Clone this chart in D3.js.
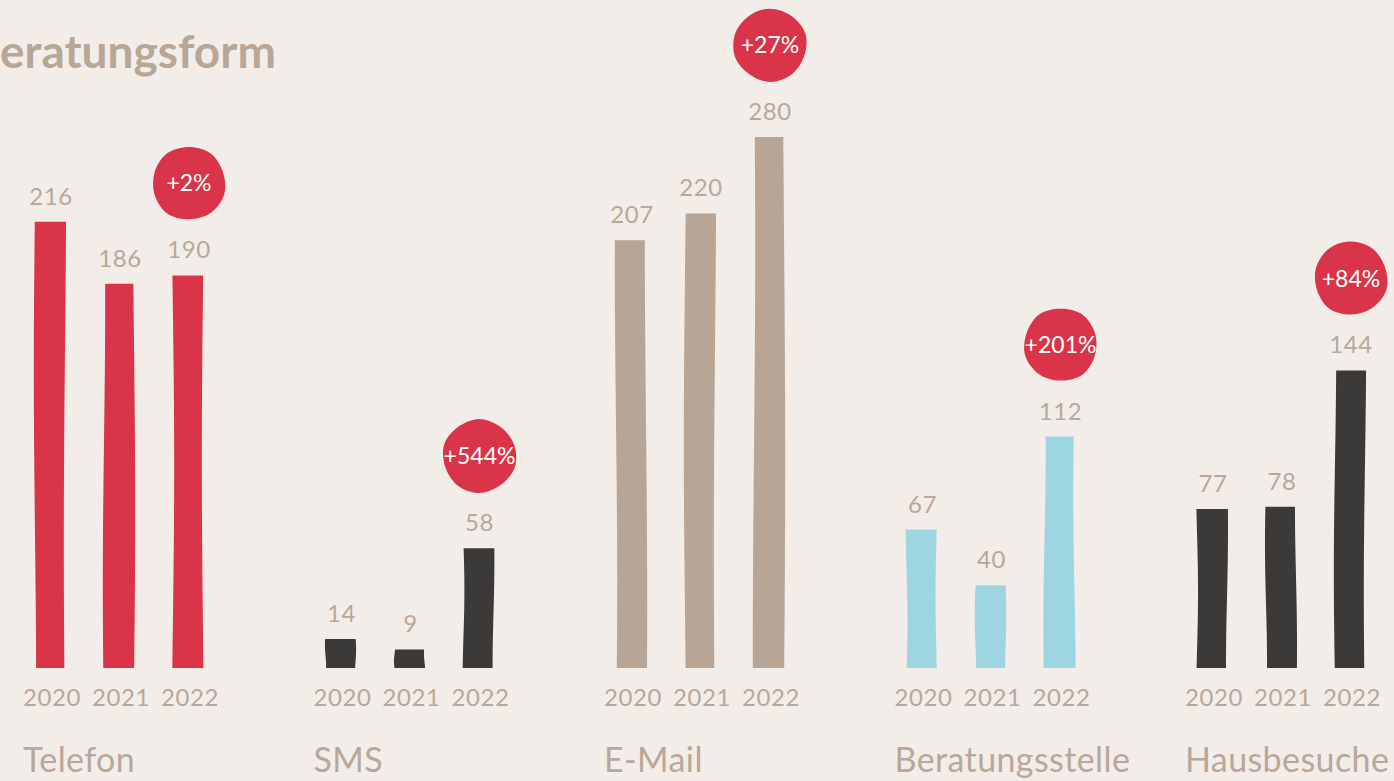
<!DOCTYPE html>
<html>
<head>
<meta charset="utf-8">
<script src="https://cdn.jsdelivr.net/npm/d3@7"></script>
<style>
  body { margin: 0; background: #f3edea; overflow: hidden; }
  text { font-family: Lato, "Open Sans", sans-serif; }
</style>
</head>
<body>
<script>
// Daten
var categories = ["Telefon", "SMS", "E-Mail", "Beratungsstelle", "Hausbesuche"];
var years = ["2020", "2021", "2022"];
var values2020 = [216, 14, 207, 67, 77];
var values2021 = [186, 9, 220, 40, 78];
var values2022 = [190, 58, 280, 112, 144];
var changes = ["+2%", "+544%", "+27%", "+201%", "+84%"];
var colors = ["#d93448", "#3c3a38", "#b8a595", "#9dd6e1", "#3c3a38"];

// Tamanho
var w = 1394, h = 781;
var baseline = 668;
var barW = 30;
var textColor = "#b9a799";

var svg = d3.select("body").append("svg")
  .attr("width", w)
  .attr("height", h);

svg.append("rect").attr("width", w).attr("height", h).attr("fill", "#f3edea");

// Scales
var x0 = d3.scalePoint().domain(categories).range([119, 1281]);
var x1 = d3.scalePoint().domain(years).range([-69, 69]);
// the tallest bar (E-Mail 2022) is capped in the original
var y = d3.scaleLinear().domain([0, 257]).range([baseline, 137]).clamp(true);

// Titel (links abgeschnitten, wie im Original)
var title = svg.append("text")
  .attr("y", 68)
  .attr("font-size", "46px")
  .attr("font-weight", "bold")
  .attr("fill", "#b8a696")
  .text("Beratungsform");
title.attr("x", -title.node().getSubStringLength(0, 1));

// flatten data
var rows = [];
categories.forEach(function(c, i) {
  [values2020[i], values2021[i], values2022[i]].forEach(function(v, j) {
    rows.push({cat: c, year: years[j], value: v, ci: i, yi: j});
  });
});

// wavy hand-drawn bar
function barPath(cx, top, bottom, seed) {
  var n = 14, pts = [];
  var left = cx - barW / 2, right = cx + barW / 2;
  var amp = Math.min(1.2, 0.5 + (bottom - top) / 300);
  for (var k = 0; k <= n; k++) {
    var t = k / n;
    var yy = bottom - t * (bottom - top);
    pts.push([left + amp * Math.sin(seed * 1.9 + t * 4.2), yy]);
  }
  for (var k = n; k >= 0; k--) {
    var t = k / n;
    var yy = bottom - t * (bottom - top);
    pts.push([right + amp * Math.sin(seed * 2.7 + t * 3.6 + 1), yy]);
  }
  return d3.line().curve(d3.curveLinearClosed)(pts);
}

// Balken
svg.selectAll(".bar")
  .data(rows)
  .enter()
  .append("path")
  .attr("class", "bar")
  .attr("d", function(d, i) {
    return barPath(x0(d.cat) + x1(d.year), y(d.value), baseline, i + 1);
  })
  .attr("fill", function(d) { return colors[d.ci]; });

// Werte
svg.selectAll(".val")
  .data(rows)
  .enter()
  .append("text")
  .attr("class", "val")
  .attr("x", function(d) { return x0(d.cat) + x1(d.year) + 1; })
  .attr("y", function(d) { return y(d.value) - 17; })
  .attr("text-anchor", "middle")
  .attr("font-size", "24px")
  .attr("letter-spacing", "0.5px")
  .attr("fill", textColor)
  .text(function(d) { return d.value; });

// Jahre
svg.selectAll(".year")
  .data(rows)
  .enter()
  .append("text")
  .attr("class", "year")
  .attr("x", function(d) { return x0(d.cat) + x1(d.year) + 2; })
  .attr("y", 706)
  .attr("text-anchor", "middle")
  .attr("font-size", "24px")
  .attr("letter-spacing", "0.6px")
  .attr("fill", textColor)
  .text(function(d) { return d.year; });

// Kategorien
svg.selectAll(".cat")
  .data(categories)
  .enter()
  .append("text")
  .attr("class", "cat")
  .attr("x", function(d) { return x0(d) - 96; })
  .attr("y", 772)
  .attr("font-size", "34px")
  .attr("letter-spacing", "0.4px")
  .attr("fill", textColor)
  .text(function(d) { return d; });

// Blasen mit Veraenderung
var blob = d3.lineRadial().curve(d3.curveCardinalClosed);
function blobPath(seed) {
  var pts = [];
  for (var k = 0; k < 10; k++) {
    var a = k / 10 * 2 * Math.PI;
    pts.push([a, 36.5 * (1 + 0.02 * Math.sin(k * 2.3 + seed))]);
  }
  return blob(pts);
}

var bubbleOffset = [103, 85, 95, 97, 87];

var bubbles = svg.selectAll(".bubble")
  .data(categories)
  .enter()
  .append("g")
  .attr("class", "bubble")
  .attr("transform", function(d, i) {
    return "translate(" + (x0(d) + x1("2022") + 1) + "," + (y(values2022[i]) - 92) + ")";
  });

bubbles.append("path")
  .attr("d", function(d, i) { return blobPath(i * 1.7); })
  .attr("fill", "#d93448");

bubbles.append("text")
  .attr("text-anchor", "middle")
  .attr("dy", "0.35em")
  .attr("font-size", "23px")
  .attr("fill", "#ffffff")
  .text(function(d, i) { return changes[i]; });
</script>
</body>
</html>
